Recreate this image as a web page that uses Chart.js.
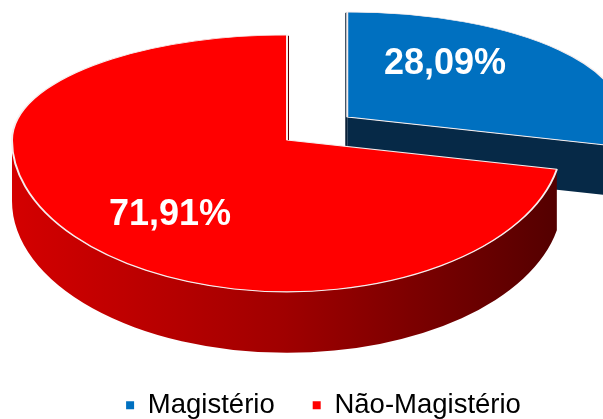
<!DOCTYPE html>
<html><head><meta charset="utf-8">
<script src="https://cdn.jsdelivr.net/npm/chart.js@4/dist/chart.umd.min.js"></script>
<style>html,body{margin:0;padding:0;background:#fff;overflow:hidden}</style>
</head><body>
<canvas id="c" width="603" height="419"></canvas>
<script>
// ---- data ----
const categories = ['Magistério', 'Não-Magistério'];
const shares = [28.09, 71.91];

// ---- styles ----
const topColors = ['#0070c0', '#ff0000'];
const wallStops = [['#0b2f52', '#082844', '#05203a'], ['#d40000', '#a00000', '#540000']];
const faceColors = ['#062947', '#7a0000'];
const edgeColors = ['#0c2238', '#5e0000'];

const FONT = '"Liberation Sans", Arial, Helvetica, sans-serif';

const pie3d = {
  id: 'pie3d',
  beforeDatasetsDraw(chart, args, opts) {
    const ctx = chart.ctx;
    const W = chart.width, H = chart.height;
    const kb = opts.tiltBack, kf = opts.tiltFront;
    const arcs = chart.getDatasetMeta(0).data;
    const geo = arcs.map((arc, i) => {
      const m = (arc.startAngle + arc.endAngle) / 2;
      const d = opts.explode[i] || 0;
      return {
        i, arc, m, R: arc.outerRadius, s: arc.startAngle, e: arc.endAngle,
        h: opts.depth[i],
        cx: opts.cx + d * Math.cos(m),
        cy: Math.round(opts.cy + d * opts.tilt * Math.sin(m))
      };
    }).sort((a, b) => a.cy - b.cy);

    const pt = (g, ang, dy) => {
      const k = Math.sin(ang) < 0 ? kb : kf;
      return [g.cx + g.R * Math.cos(ang), g.cy + g.R * k * Math.sin(ang) + (dy || 0)];
    };

    // side walls and cut faces
    geo.forEach(g => {
      const {cx, cy, R, s, e, i, h} = g;
      [[e, Math.cos(e)], [s, -Math.cos(s)]].forEach(([ang, vis]) => {
        const p1 = pt(g, ang), p2 = pt(g, ang, h);
        ctx.save();
        ctx.beginPath();
        if (vis > 0.001) {
          ctx.moveTo(cx, cy);
          ctx.lineTo(p1[0], p1[1]);
          ctx.lineTo(p2[0], p2[1]);
          ctx.lineTo(cx, cy + h);
          ctx.fillStyle = faceColors[i];
        } else if (Math.abs(vis) <= 0.001) {
          // face seen almost edge-on: thin sliver toward the viewer side
          const side = cx < opts.viewX ? 1 : -1;
          ctx.moveTo(p1[0], p1[1]);
          ctx.lineTo(p1[0] + side * 2, p1[1] + 1);
          ctx.lineTo(cx + side * 2, cy + h);
          ctx.lineTo(cx, cy + h);
          ctx.fillStyle = edgeColors[i];
        } else {
          ctx.restore();
          return;
        }
        ctx.closePath();
        ctx.fill();
        ctx.restore();
      });
      const a = Math.max(s, 0), b = Math.min(e, Math.PI);
      if (b > a) {
        ctx.save();
        const gr = ctx.createLinearGradient(cx - R, 0, cx + R * 0.98, 0);
        const st = wallStops[i];
        gr.addColorStop(0, st[0]);
        gr.addColorStop(0.5, st[1]);
        gr.addColorStop(1, st[2]);
        ctx.beginPath();
        ctx.ellipse(cx, cy, R, R * kf, 0, a, b, false);
        ctx.ellipse(cx, cy + h, R, R * kf, 0, b, a, true);
        ctx.closePath();
        ctx.fillStyle = gr;
        ctx.fill();
        ctx.restore();
      }
    });

    // top faces drawn by the library's arc elements: back half and front half tilted differently
    geo.forEach(g => {
      [[0, g.cy, kb], [g.cy, H - g.cy, kf]].forEach(([y0, hh, k]) => {
        ctx.save();
        ctx.beginPath();
        ctx.rect(0, y0, W, hh);
        ctx.clip();
        ctx.translate(g.cx, g.cy);
        ctx.scale(1, k);
        ctx.translate(-g.arc.x, -g.arc.y);
        g.arc.draw(ctx);
        ctx.restore();
      });
    });

    // value labels
    const data = chart.data.datasets[0].data;
    ctx.save();
    ctx.font = 'bold 36px ' + FONT;
    ctx.fillStyle = '#ffffff';
    ctx.textAlign = 'center';
    ctx.textBaseline = 'middle';
    geo.forEach(g => {
      const f = opts.labelAnchor[g.i];
      const k = Math.sin(g.m) < 0 ? kb : kf;
      const x = g.cx + Math.cos(g.m) * g.R * f[0];
      const y = g.cy + Math.sin(g.m) * g.R * k * f[1];
      ctx.fillText(data[g.i].toFixed(2).replace('.', ',') + '%', x, y);
    });
    ctx.restore();
    return false;
  }
};

new Chart(document.getElementById('c'), {
  type: 'pie',
  data: {
    labels: categories,
    datasets: [{
      data: shares,
      backgroundColor: topColors,
      borderColor: '#f6eeee',
      borderWidth: 2,
      radius: 275
    }]
  },
  options: {
    responsive: false,
    animation: false,
    events: [],
    radius: 275,
    layout: { padding: { left: 44, bottom: -10 } },
    plugins: {
      tooltip: { enabled: false },
      legend: {
        position: 'bottom',
        labels: {
          boxWidth: 8,
          boxHeight: 8,
          padding: 38,
          color: '#000000',
          font: { family: FONT, size: 27.5 },
          generateLabels: (chart) => Chart.overrides.doughnut.plugins.legend.labels.generateLabels(chart)
            .map(l => Object.assign(l, { lineWidth: 0, strokeStyle: 'rgba(0,0,0,0)' }))
        }
      },
      pie3d: {
        cx: 287, cy: 140, viewX: 301, tilt: 0.474, tiltBack: 0.382, tiltFront: 0.552,
        depth: [50, 61],
        explode: [78, 0],
        labelAnchor: [[0.46, 0.79], [0.551, 0.78]]
      }
    }
  },
  plugins: [pie3d]
});
</script>
</body></html>
